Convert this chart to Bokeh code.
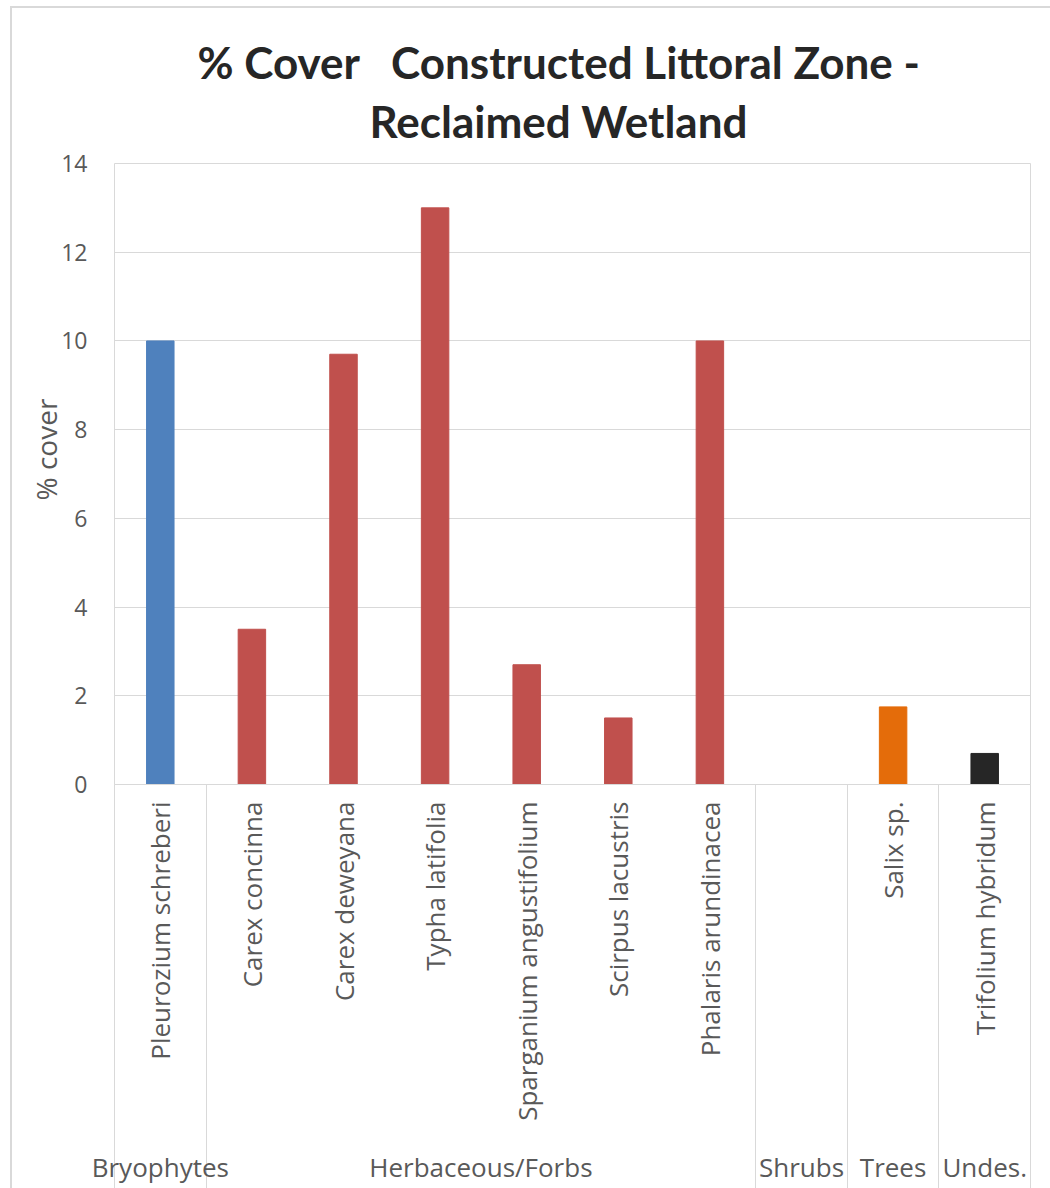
import math

from bokeh.embed import file_html
from bokeh.models import (ColumnDataSource, FixedTicker, InlineStyleSheet, LinearAxis,
                          Range1d, Title)
from bokeh.plotting import figure
from bokeh.resources import INLINE

# ---- data -----------------------------------------------------------------
species = [
    "Pleurozium schreberi",
    "Carex concinna",
    "Carex deweyana",
    "Typha latifolia",
    "Sparganium angustifolium",
    "Scirpus lacustris",
    "Phalaris arundinacea",
    "",
    "Salix sp.",
    "Trifolium hybridum",
]
groups = [
    "Bryophytes",
    "Herbaceous/Forbs",
    "Herbaceous/Forbs",
    "Herbaceous/Forbs",
    "Herbaceous/Forbs",
    "Herbaceous/Forbs",
    "Herbaceous/Forbs",
    "Shrubs",
    "Trees",
    "Undes.",
]
cover = [10, 3.5, 9.7, 13, 2.7, 1.5, 10, float("nan"), 1.75, 0.7]
y_ticks = [0, 2, 4, 6, 8, 10, 12, 14]

group_colors = {
    "Bryophytes": "#4F81BD",
    "Herbaceous/Forbs": "#C0504D",
    "Shrubs": "#9BBB59",
    "Trees": "#E46C0A",
    "Undes.": "#262626",
}

# non-breaking spaces keep the wide gap after "% Cover"
title_lines = ["% Cover\u00a0\u00a0\u00a0Constructed Littoral Zone -", "Reclaimed Wetland"]
y_label = "% cover"

# ---- layout constants -------------------------------------------------------
W, H = 1050, 1188
LEFT, RIGHT_PAD, TOP, BOTTOM = 114, 20, 163, 1188 - 784
label_color = "#595959"
grid_color = "#d9d9d9"
title_color = "#262626"
cat_font = "Open Sans"
cat_size = "26px"

p = figure(
    width=W,
    height=H,
    title=None,
    x_range=Range1d(0, len(species)),
    y_range=Range1d(0, 14),
    x_axis_location=None,
    output_backend="svg",
    toolbar_location=None,
    min_border_left=LEFT,
    min_border_right=RIGHT_PAD,
    min_border_top=TOP,
    min_border_bottom=BOTTOM,
)
p.background_fill_color = "white"
p.border_fill_color = "white"
p.outline_line_color = grid_color
p.outline_line_width = 1

# thin chart-area border along the left and top edges
p.stylesheets = [InlineStyleSheet(css="""
:host::after {
  content: "";
  position: absolute;
  left: 10px; top: 6px; right: 0; bottom: 0;
  border-left: 2px solid #d9d9d9;
  border-top: 2px solid #d9d9d9;
  pointer-events: none;
}
""")]

# ---- value axis & gridlines ---------------------------------------------------
ticker = FixedTicker(ticks=y_ticks)
yax = p.yaxis[0]
yax.ticker = ticker
yax.axis_line_color = None
yax.major_tick_line_color = None
yax.minor_tick_line_color = None
yax.major_tick_out = 0
yax.major_tick_in = 0
yax.major_label_standoff = 27
yax.major_label_text_font = "Open Sans"
yax.major_label_text_font_size = "23px"
yax.major_label_text_color = label_color

p.xgrid.visible = False
p.ygrid.ticker = ticker
p.ygrid.grid_line_color = grid_color
p.ygrid.grid_line_width = 1

# ---- bars -------------------------------------------------------------------
xs = [i + 0.5 for i in range(len(species))]
src = ColumnDataSource(dict(
    x=xs,
    top=cover,
    color=[group_colors[g] for g in groups],
))
p.vbar(x="x", top="top", bottom=0, width=0.3, fill_color="color",
       line_color="color", source=src)

# ---- category axis ------------------------------------------------------------
bounds = [0] + [i for i in range(1, len(groups)) if groups[i] != groups[i - 1]] + [len(groups)]

# species names; the group separators hang below the zero line as minor ticks
species_axis = LinearAxis(
    ticker=FixedTicker(ticks=xs, minor_ticks=bounds),
    major_label_overrides={x: s for x, s in zip(xs, species)},
    major_label_orientation=math.pi / 2,
    major_label_standoff=17,
    major_label_text_font=cat_font,
    major_label_text_font_size=cat_size,
    major_label_text_color=label_color,
    major_tick_out=0,
    major_tick_in=0,
    major_tick_line_color=None,
    minor_tick_out=0,
    minor_tick_in=-BOTTOM,
    minor_tick_line_color=grid_color,
    minor_tick_line_width=1,
    axis_line_color=grid_color,
)
p.add_layout(species_axis, "below")

# group names centred under each block of species
g_names = [groups[b] for b in bounds[:-1]]
g_x = [(bounds[k] + bounds[k + 1]) / 2 for k in range(len(g_names))]
group_axis = LinearAxis(
    ticker=FixedTicker(ticks=g_x, minor_ticks=[]),
    major_label_overrides={x: g for x, g in zip(g_x, g_names)},
    major_label_orientation="horizontal",
    major_label_standoff=25,
    major_label_text_font=cat_font,
    major_label_text_font_size=cat_size,
    major_label_text_color=label_color,
    major_tick_out=0,
    major_tick_in=0,
    major_tick_line_color=None,
    minor_tick_line_color=None,
    axis_line_color=None,
)
p.add_layout(group_axis, "below")

# ---- titles -------------------------------------------------------------------
p.add_layout(Title(text=y_label, align="left", offset=284, standoff=-12,
                   text_font="Open Sans", text_font_style="normal",
                   text_font_size="28px", text_color=label_color), "left")

p.add_layout(Title(text=title_lines[1], align="left", offset=255, standoff=33,
                   text_font="Lato", text_font_style="bold",
                   text_font_size="44px", text_color=title_color), "above")
p.add_layout(Title(text=title_lines[0], align="left", offset=83, standoff=-23,
                   text_font="Lato", text_font_style="bold",
                   text_font_size="44px", text_color=title_color), "above")

open("out.html", "w").write(file_html(p, INLINE))
